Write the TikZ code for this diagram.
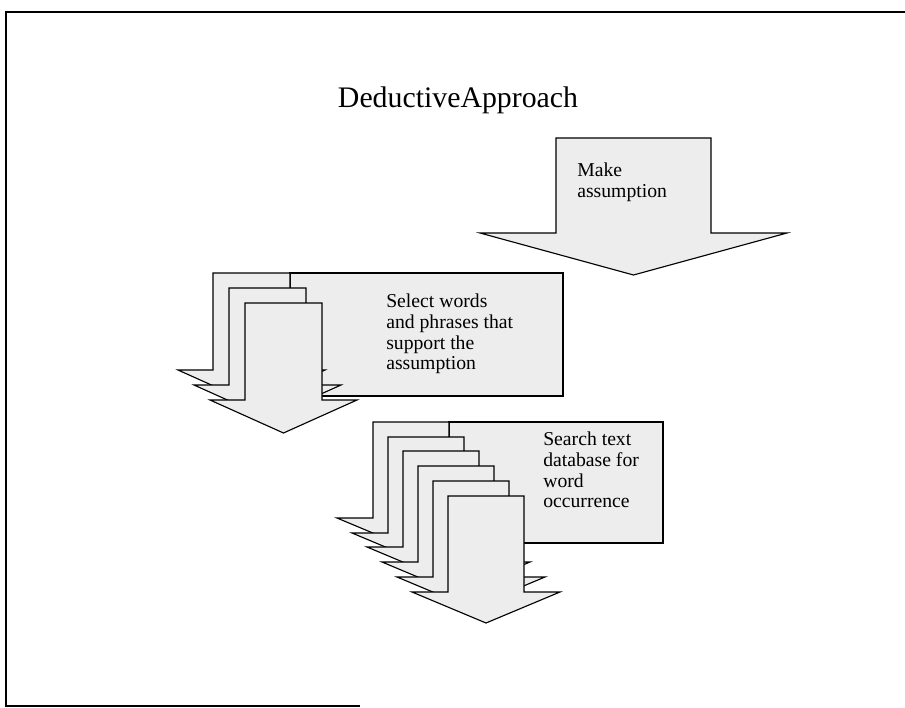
\documentclass[tikz,border=0pt]{standalone}
\usepackage{fontspec}
\setmainfont{Liberation Serif}
\newcommand{\blockarrow}[6]{\filldraw[arrowbox] (#1,#2) -- (#1+#3,#2) -- (#1+#3,#4) -- (#1+#3+#5,#4) -- (#1+#3/2,#6) -- (#1-#5,#4) -- (#1,#4) -- cycle;}
\tikzset{
  arrowbox/.style={fill=gray!14, draw=black, line width=0.8pt, line join=miter},
  stepbox/.style={fill=gray!14, draw=black, line width=0.8pt},
  steptext/.style={anchor=west, align=left, inner sep=0pt, font=\fontsize{14}{14.8}\selectfont},
  frameline/.style={draw=black, line width=1.9pt}
}
\begin{document}
\begin{tikzpicture}[x=0.025cm, y=-0.025cm]
                \useasboundingbox (0,0) rectangle (905,708);
                \draw[frameline] (360,706) -- (6,706) -- (6,12) -- (915,12);
                \node (TITLE) at (458,100) {\fontsize{21.2}{25}\selectfont DeductiveApproach};
                \blockarrow{556}{138}{155}{233}{76}{275}
                \node[steptext] (MAKE) at (577,182) {Make\\assumption};
                \draw[stepbox] (290,273) rectangle (563,396);
                \blockarrow{213}{273}{77}{370}{35}{403}
                \blockarrow{229}{288}{77}{385}{35}{418}
                \blockarrow{245}{303}{77}{400}{35}{433}
                \node[steptext] (SELECT) at (386,334) {Select words\\and phrases that\\support the\\assumption};
                \draw[stepbox] (449,422) rectangle (663,543);
                \blockarrow{373}{422}{76}{518}{36}{549}
                \blockarrow{388}{437}{76}{533}{36}{564}
                \blockarrow{403}{451}{76}{547}{36}{578}
                \blockarrow{418}{466}{76}{562}{36}{593}
                \blockarrow{433}{481}{76}{577}{36}{608}
                \blockarrow{448}{496}{76}{592}{36}{623}
                \node[steptext] (SEARCH) at (543,470) {Search text\\database for\\word\\occurrence};
\end{tikzpicture}
\end{document}
